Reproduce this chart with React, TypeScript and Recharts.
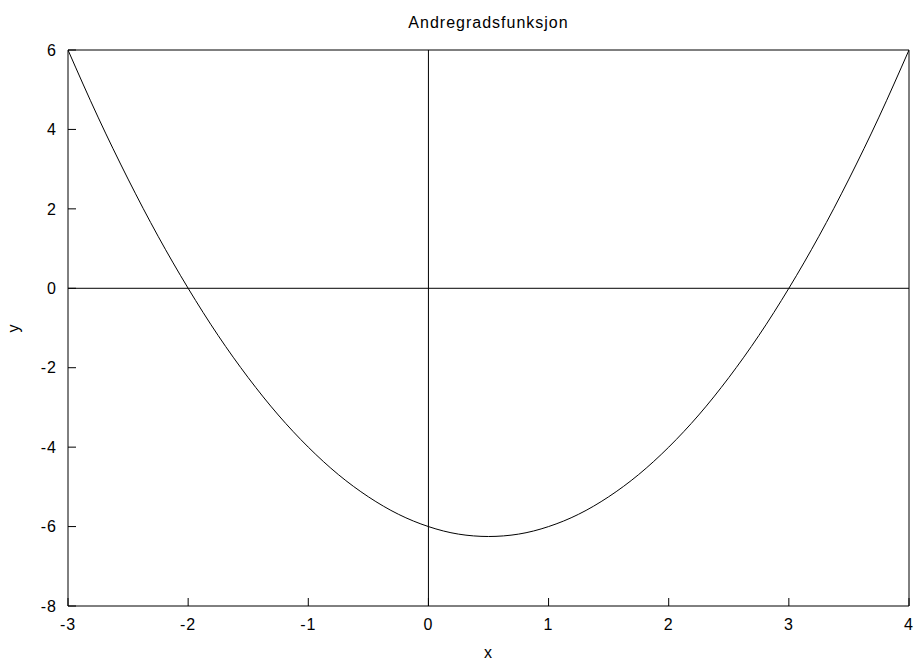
import { LineChart, Line, XAxis, YAxis, ReferenceLine, Label } from 'recharts';

// points (x, y)
const xValues = [-3, -2.75, -2.5, -2.25, -2, -1.75, -1.5, -1.25, -1, -0.75, -0.5, -0.25, 0, 0.25, 0.5, 0.75, 1, 1.25, 1.5, 1.75, 2, 2.25, 2.5, 2.75, 3, 3.25, 3.5, 3.75, 4];
const yValues = [6, 4.31, 2.75, 1.31, 0, -1.19, -2.25, -3.19, -4, -4.69, -5.25, -5.69, -6, -6.19, -6.25, -6.19, -6, -5.69, -5.25, -4.69, -4, -3.19, -2.25, -1.19, 0, 1.31, 2.75, 4.31, 6];

const xTicks = [-3, -2, -1, 0, 1, 2, 3, 4];
const yTicks = [-8, -6, -4, -2, 0, 2, 4, 6];

const TITLE = 'Andregradsfunksjon';
const X_LABEL = 'x';
const Y_LABEL = 'y';

const data = xValues.map((x, i) => ({ x, y: yValues[i] }));

const FONT = "'Liberation Sans', Arial, Helvetica, sans-serif";
const tickStyle = { fill: '#000', fontSize: 16, fontFamily: FONT };

const App = () => {
  return (
    <div style={{ position: 'absolute', left: 0, top: 0, width: 916, height: 660, background: '#fff', fontFamily: FONT, letterSpacing: '1px' }}>
      <LineChart width={916} height={660} data={data} margin={{ top: 0, right: 0, bottom: 0, left: 0 }}>
        {/* bottom axis with labels */}
        <XAxis
          dataKey="x"
          type="number"
          domain={[-3, 4]}
          ticks={xTicks}
          allowDataOverflow
          height={54}
          tickSize={-8}
          tickMargin={21}
          tick={tickStyle}
          stroke="#000"
          tickLine={{ stroke: '#000' }}
          axisLine={{ stroke: '#000' }}
        >
          <Label
            content={({ viewBox }: any) => (
              <text x={viewBox.x + viewBox.width / 2} y={viewBox.y + 52} textAnchor="middle" fontSize={16} fill="#000">
                {X_LABEL}
              </text>
            )}
          />
        </XAxis>
        {/* mirrored top axis, ticks only */}
        <XAxis
          xAxisId="top"
          orientation="top"
          dataKey="x"
          type="number"
          domain={[-3, 4]}
          ticks={xTicks}
          allowDataOverflow
          height={50}
          tickSize={-8}
          tick={false}
          tickLine={{ stroke: '#000' }}
          axisLine={{ stroke: '#000' }}
        >
          <Label
            content={({ viewBox }: any) => (
              <text x={viewBox.x + viewBox.width / 2} y={28} textAnchor="middle" fontSize={16} fill="#000">
                {TITLE}
              </text>
            )}
          />
        </XAxis>
        <YAxis
          type="number"
          domain={[-8, 6]}
          ticks={yTicks}
          allowDataOverflow
          width={68}
          tickSize={-8}
          tickMargin={19}
          tick={tickStyle}
          tickLine={{ stroke: '#000' }}
          axisLine={{ stroke: '#000' }}
        >
          <Label
            content={({ viewBox }: any) => {
              const cx = viewBox.x + 18.5;
              const cy = viewBox.y + viewBox.height / 2;
              return (
                <text x={cx} y={cy} transform={`rotate(-90 ${cx} ${cy})`} textAnchor="middle" fontSize={16} fill="#000">
                  {Y_LABEL}
                </text>
              );
            }}
          />
        </YAxis>
        {/* mirrored right axis, ticks only */}
        <YAxis
          yAxisId="right"
          orientation="right"
          type="number"
          domain={[-8, 6]}
          ticks={yTicks}
          allowDataOverflow
          width={7}
          tickSize={-8}
          tick={false}
          tickLine={{ stroke: '#000' }}
          axisLine={{ stroke: '#000' }}
        />
        <ReferenceLine x={0} stroke="#000" strokeWidth={1} />
        <ReferenceLine y={0} stroke="#000" strokeWidth={1} />
        <Line
          type="monotone"
          dataKey="y"
          stroke="#000"
          strokeWidth={1}
          dot={false}
          activeDot={false}
          isAnimationActive={false}
        />
      </LineChart>
    </div>
  );
};

export default App;
